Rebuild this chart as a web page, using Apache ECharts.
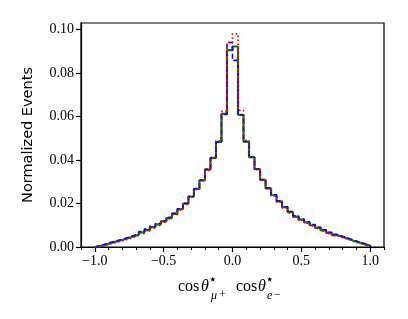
<!DOCTYPE html>
<html><head><meta charset="utf-8">
<script src="https://cdn.jsdelivr.net/npm/echarts@6/dist/echarts.min.js"></script>
<style>html,body{margin:0;padding:0;background:#fff}#c{width:408px;height:319px}</style>
</head><body><div id="c"></div>
<script>
// Histogram: 50 bins of width 0.04 from -1.0 to 1.0
const binLo = -1.0, binHi = 1.0, nBins = 50;
const xTicks = [-1.0, -0.5, 0.0, 0.5, 1.0];
const xMinorTicks = [-1.1,-1.0,-0.9,-0.8,-0.7,-0.6,-0.5,-0.4,-0.3,-0.2,-0.1,0.0,0.1,0.2,0.3,0.4,0.5,0.6,0.7,0.8,0.9,1.0,1.1];
const yTicks = [0.00, 0.02, 0.04, 0.06, 0.08, 0.10];

const green = [0.0004,0.0011,0.0019,0.0026,0.0032,0.0040,0.0048,0.0057,0.0067,0.0078,0.0091,0.0104,0.0118,0.0133,0.0152,0.0174,0.0199,0.0232,0.0267,0.0306,0.0356,0.0410,0.0483,0.0612,0.0905,
               0.0922,0.0608,0.0485,0.0413,0.0358,0.0309,0.0270,0.0238,0.0210,0.0183,0.0160,0.0140,0.0126,0.0113,0.0100,0.0088,0.0076,0.0065,0.0055,0.0046,0.0038,0.0029,0.0021,0.0013,0.0005];
const blue  = [0.0006,0.0014,0.0022,0.0029,0.0036,0.0044,0.0052,0.0061,0.0071,0.0082,0.0095,0.0108,0.0121,0.0136,0.0155,0.0176,0.0201,0.0233,0.0268,0.0307,0.0357,0.0410,0.0482,0.0610,0.0940,
               0.0858,0.0606,0.0484,0.0413,0.0359,0.0310,0.0272,0.0240,0.0212,0.0185,0.0163,0.0143,0.0129,0.0116,0.0103,0.0091,0.0079,0.0068,0.0058,0.0049,0.0040,0.0031,0.0023,0.0015,0.0006];
const red   = [0.0003,0.0009,0.0016,0.0022,0.0029,0.0036,0.0044,0.0053,0.0063,0.0074,0.0087,0.0100,0.0114,0.0130,0.0149,0.0171,0.0196,0.0229,0.0264,0.0304,0.0353,0.0408,0.0488,0.0623,0.0940,
               0.0980,0.0628,0.0490,0.0412,0.0356,0.0307,0.0268,0.0235,0.0207,0.0180,0.0157,0.0137,0.0123,0.0110,0.0097,0.0085,0.0073,0.0062,0.0052,0.0043,0.0035,0.0026,0.0018,0.0011,0.0004];

const edges = [];
for (let i = 0; i <= nBins; i++) edges.push(binLo + (binHi - binLo) * i / nBins);

function stepData(vals) {
  const pts = [[edges[0], 0]];
  vals.forEach((v, i) => pts.push([edges[i], v]));
  pts.push([edges[nBins], vals[nBins - 1]]);
  pts.push([edges[nBins], 0]);
  return pts;
}
function mkSeries(vals, color, type, width, z) {
  return { type: 'line', step: 'end', data: stepData(vals), symbol: 'none', z: z,
    lineStyle: { color: color, width: width, type: type }, xAxisIndex: 0, yAxisIndex: 0 };
}

const serif = 'Liberation Serif';
const fmtX = v => (v < 0 ? '\u2212' : '') + Math.abs(v).toFixed(1);
const mid = { textVerticalAlign: 'middle', verticalAlign: 'middle', fill: '#000' };
function t(x, y, text, font) { return { type: 'text', x: x, y: y, style: Object.assign({ text: text, font: font }, mid) }; }

const chart = echarts.init(document.getElementById('c'), null, { renderer: 'canvas' });
chart.setOption({
  animation: false,
  backgroundColor: '#fff',
  grid: { left: 81, right: 24, top: 23, bottom: 72, show: true, borderColor: '#000', borderWidth: 1.2, backgroundColor: 'transparent' },
  xAxis: [{
    type: 'value', min: -1.1, max: 1.1, position: 'bottom',
    axisLine: { show: true, onZero: false, lineStyle: { color: '#000', width: 1.2 } },
    axisTick: { show: true, inside: false, length: 5, customValues: xTicks, lineStyle: { color: '#000', width: 1.2 } },
    axisLabel: { show: true, customValues: xTicks, formatter: fmtX, fontFamily: serif, fontSize: 14, color: '#000', margin: 7 },
    splitLine: { show: false }
  }, {
    type: 'value', min: -1.1, max: 1.1, position: 'bottom',
    axisLine: { show: false },
    axisTick: { show: true, inside: false, length: 3, customValues: xMinorTicks, lineStyle: { color: '#000', width: 1 } },
    axisLabel: { show: false },
    splitLine: { show: false }
  }],
  yAxis: [{
    type: 'value', min: 0, max: 0.103,
    axisLine: { show: true, onZero: false, lineStyle: { color: '#000', width: 1.2 } },
    axisTick: { show: true, inside: false, length: 5, customValues: yTicks, lineStyle: { color: '#000', width: 1.2 } },
    axisLabel: { show: true, customValues: yTicks, formatter: v => v.toFixed(2), fontFamily: serif, fontSize: 14, color: '#000', margin: 7 },
    splitLine: { show: false }
  }],
  series: [
    mkSeries(green, '#008000', 'solid', 2.2, 3),
    mkSeries(blue, '#0000ff', [5, 2.6], 1.6, 4),
    mkSeries(red, '#ff0000', [1.5, 2.5], 1.8, 5)
  ],
  graphic: [
    { type: 'text', x: 28, y: 135, rotation: Math.PI / 2,
      style: { text: 'Normalized Events', x: 0, y: 0, textAlign: 'center', textVerticalAlign: 'middle', align: 'center', verticalAlign: 'middle',
               font: '14.5px "DejaVu Sans"', fill: '#000' } },
    t(178, 287, 'cos', '16px "Liberation Serif"'),
    t(201, 287, '\u03b8', 'italic 16px "Liberation Serif"'),
    t(209, 280, '\u22c6', 'bold 12px "DejaVu Sans"'),
    t(211, 296, '\u03bc', 'italic 12px "Liberation Serif"'),
    t(219, 295, '+', '12px "Liberation Serif"'),
    t(236, 287, 'cos', '16px "Liberation Serif"'),
    t(258, 287, '\u03b8', 'italic 16px "Liberation Serif"'),
    t(266, 280, '\u22c6', 'bold 12px "DejaVu Sans"'),
    t(267, 296, 'e', 'italic 12px "Liberation Serif"'),
    t(274, 295, '\u2212', '12px "Liberation Serif"')
  ]
});
</script></body></html>
